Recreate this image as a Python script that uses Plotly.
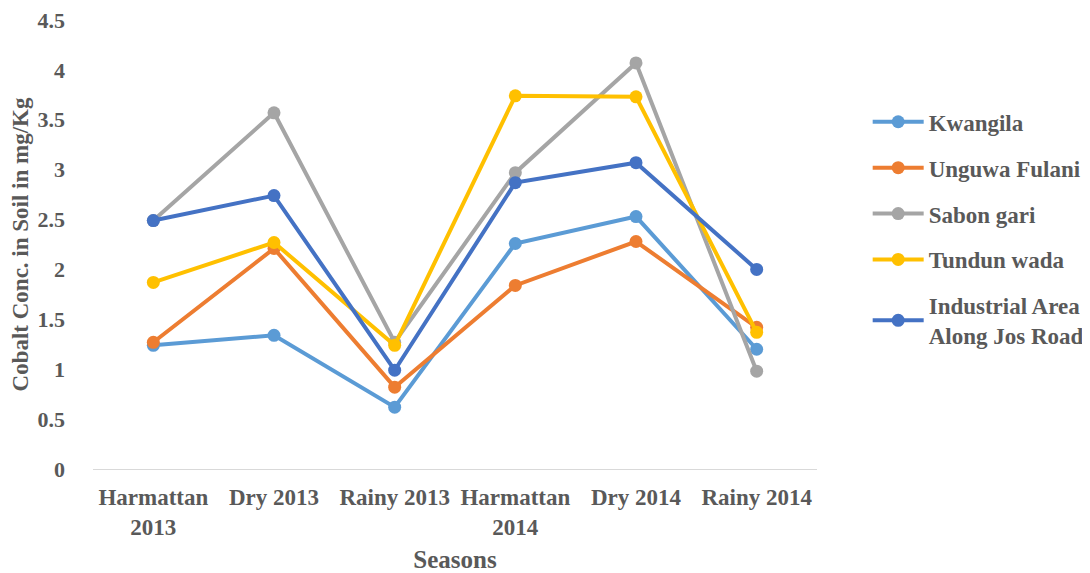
import plotly.graph_objects as go

seasons = ["Harmattan<br>2013", "Dry 2013", "Rainy 2013", "Harmattan<br>2014", "Dry 2014", "Rainy 2014"]
kwangila = [1.24, 1.34, 0.62, 2.26, 2.53, 1.20]
unguwa_fulani = [1.27, 2.21, 0.82, 1.84, 2.28, 1.42]
sabon_gari = [2.49, 3.57, 1.27, 2.97, 4.07, 0.98]
tundun_wada = [1.87, 2.27, 1.24, 3.74, 3.73, 1.37]
industrial = [2.49, 2.74, 0.99, 2.87, 3.07, 2.00]

names = ["Kwangila", "Unguwa Fulani", "Sabon gari", "Tundun wada", "Industrial Area<br>Along Jos Road"]
colors = ["#5B9BD5", "#ED7D31", "#A5A5A5", "#FFC000", "#4472C4"]
series = [kwangila, unguwa_fulani, sabon_gari, tundun_wada, industrial]

font_family = "Liberation Serif"
txt = "#595959"

fig = go.Figure()
for i, (n, c, s) in enumerate(zip(names, colors, series)):
    fig.add_trace(go.Scatter(
        x=list(range(len(seasons))), y=s, name=n, mode="lines+markers",
        line=dict(color=c, width=4), marker=dict(color=c, size=13),
        legendgroup=str(i),
    ))

fig.update_layout(
    width=1082, height=565,
    margin=dict(l=85, r=273, t=12, b=104, autoexpand=False),
    plot_bgcolor="white", paper_bgcolor="white",
    font=dict(family=font_family, color=txt, size=22),
    showlegend=True,
    legend=dict(
        x=1.07, xanchor="left", y=0.535, yanchor="middle",
        traceorder="grouped", tracegroupgap=13,
        font=dict(family=font_family, size=23, color=txt, weight="bold"),
        itemwidth=51,
    ),
    xaxis=dict(
        tickmode="array", tickvals=list(range(len(seasons))), ticktext=seasons,
        range=[-0.5, 5.5], showgrid=False, zeroline=False, automargin=False,
        showline=True, linecolor="#D9D9D9", linewidth=1,
        tickfont=dict(family=font_family, size=23, color=txt, weight="bold"),
        ticks="", ticklabelstandoff=7, ticklabeloverflow="allow",
        title=dict(text="Seasons", font=dict(family=font_family, size=25, color=txt, weight="bold"), standoff=16),
    ),
    yaxis=dict(
        range=[0, 4.5], dtick=0.5, showgrid=False, zeroline=False, automargin=False,
        tickfont=dict(family=font_family, size=22, color=txt, weight="bold"),
        ticks="", ticklabelstandoff=27, ticklabeloverflow="allow",
        title=dict(text="Cobalt Conc. in Soil in mg/Kg", font=dict(family=font_family, size=23, color=txt, weight="bold"), standoff=2),
    ),
)

fig.write_html("out.html")
